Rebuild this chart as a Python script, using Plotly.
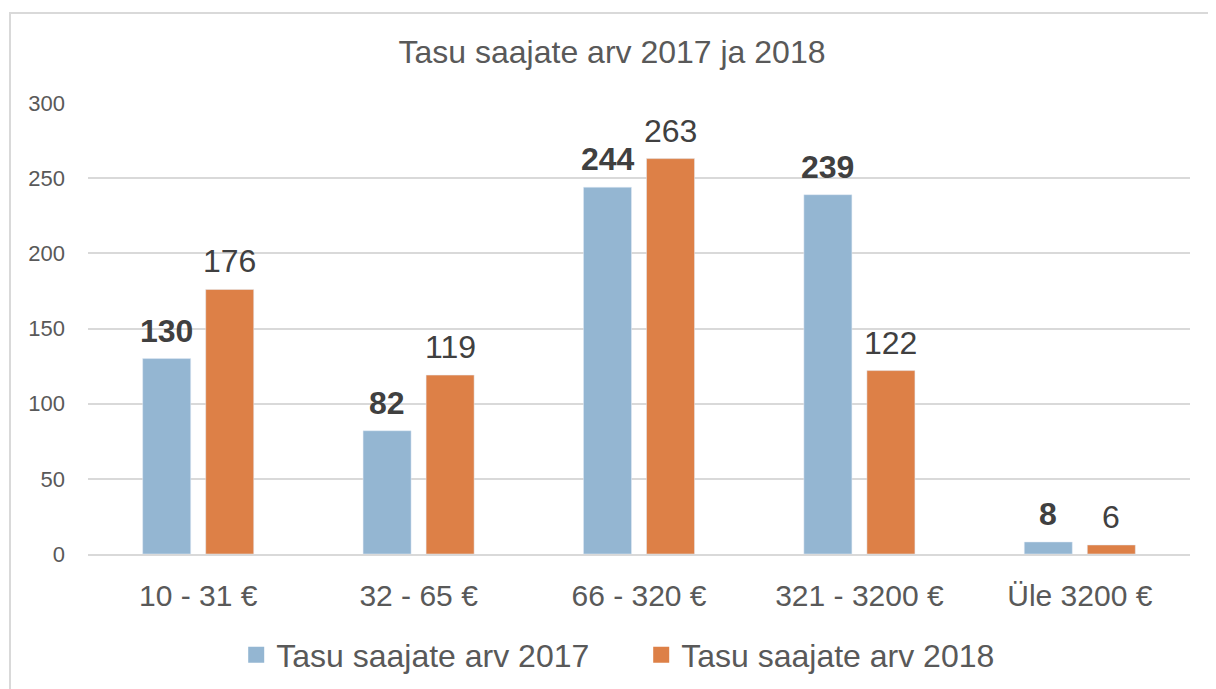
import plotly.graph_objects as go

categories = ["10 - 31 €", "32 - 65 €", "66 - 320 €", "321 - 3200 €", "Üle 3200 €"]
values_2017 = [130, 82, 244, 239, 8]
values_2018 = [176, 119, 263, 122, 6]
series_names = ["Tasu saajate arv 2017", "Tasu saajate arv 2018"]
title_text = "Tasu saajate arv 2017 ja 2018"
y_ticks = [0, 50, 100, 150, 200, 250, 300]

c2017 = "#94B6D2"
c2018 = "#DD8047"
font_family = "Liberation Sans, Arial, sans-serif"
text_gray = "#595959"
label_gray = "#404040"
grid = "#D9D9D9"

# page body has an 8px margin; figure is sized so the visible window matches
W, H = 1208, 681
PAPER_H = H - 95 - 10

fig = go.Figure()
fig.add_trace(go.Bar(x=categories, y=values_2017, name=series_names[0],
                     marker=dict(color=c2017), showlegend=False))
fig.add_trace(go.Bar(x=categories, y=values_2018, name=series_names[1],
                     marker=dict(color=c2018), showlegend=False))
# legend-only entries with larger square symbols
fig.add_trace(go.Scatter(x=[None], y=[None], mode="markers", name=series_names[0],
                         marker=dict(symbol="square", size=16, color=c2017)))
fig.add_trace(go.Scatter(x=[None], y=[None], mode="markers", name=series_names[1],
                         marker=dict(symbol="square", size=16, color=c2018)))

for cat, v in zip(categories, values_2017):
    fig.add_annotation(x=cat, y=v, text=f"<b>{v}</b>", showarrow=False,
                       xref="x", yref="y", yanchor="bottom", xshift=-31.5, yshift=8,
                       font=dict(size=32, color=label_gray, family=font_family))
for cat, v in zip(categories, values_2018):
    fig.add_annotation(x=cat, y=v, text=f"{v}", showarrow=False,
                       xref="x", yref="y", yanchor="bottom", xshift=31.5, yshift=8,
                       font=dict(size=32, color=label_gray, family=font_family))

fig.update_layout(
    width=W, height=H,
    margin=dict(l=80, r=26, t=95, b=10, autoexpand=False),
    paper_bgcolor="white", plot_bgcolor="white",
    font=dict(family=font_family, color=text_gray),
    title=dict(text=title_text, x=0.5, xanchor="center", y=1 - 44 / H, yanchor="middle",
               font=dict(size=32, color=text_gray, family=font_family)),
    barmode="group", bargap=0.428, bargroupgap=0.238,
    showlegend=True,
    legend=dict(orientation="h", x=0.502, xanchor="center", y=24 / PAPER_H, yanchor="middle",
                font=dict(size=32, color=text_gray, family=font_family),
                entrywidth=360, bgcolor="rgba(0,0,0,0)"),
    shapes=[dict(type="rect", xref="paper", yref="paper",
                 x0=-78 / 1102, x1=1.2, y0=-0.5, y1=1 + 90 / PAPER_H,
                 line=dict(color=grid, width=2), fillcolor="rgba(0,0,0,0)", layer="below")],
)
fig.update_xaxes(showgrid=False, showline=True, linecolor=grid, linewidth=2, automargin=False,
                 ticks="", tickfont=dict(size=30, color=text_gray), ticklabelstandoff=14)
fig.update_yaxes(range=[0, 300], tickvals=y_ticks, showgrid=True, gridcolor=grid, gridwidth=1.5,
                 domain=[125 / PAPER_H, 1], automargin=False,
                 zeroline=False, showline=False, ticks="",
                 tickfont=dict(size=22, color=text_gray), ticklabelstandoff=22)

fig.write_html("out.html")
